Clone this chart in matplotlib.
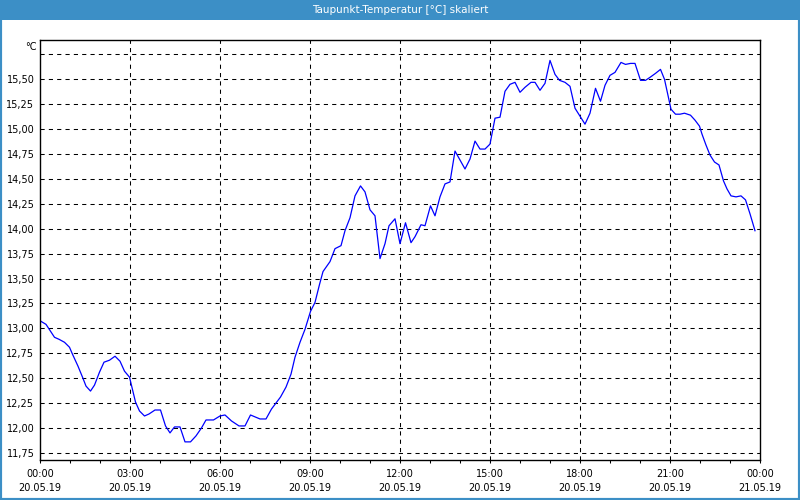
import numpy as np
import pandas as pd
import matplotlib
matplotlib.use("Agg")
import matplotlib.pyplot as plt
import matplotlib.dates as mdates
from matplotlib.patches import Rectangle
from matplotlib.ticker import FixedLocator, FuncFormatter

zeiten = ["00:02", "00:12", "00:29", "00:38", "00:49", "00:59", "01:05", "01:16", "01:25", "01:32",
          "01:41", "01:49", "01:59", "02:08", "02:19", "02:30", "02:40", "02:49", "02:59", "03:11",
          "03:19", "03:29", "03:38", "03:50", "04:01", "04:11", "04:20", "04:29", "04:40", "04:50",
          "05:01", "05:12", "05:23", "05:32", "05:47", "06:00", "06:10", "06:23", "06:38", "06:50",
          "07:01", "07:20", "07:32", "07:43", "08:01", "08:12", "08:22", "08:30", "08:40", "08:50",
          "09:01", "09:10", "09:19", "09:26", "09:40", "09:50", "10:02", "10:10", "10:20", "10:30",
          "10:41", "10:50", "11:00", "11:10", "11:20", "11:30", "11:38", "11:50", "12:00", "12:11",
          "12:22", "12:30", "12:42", "12:50", "13:01", "13:10", "13:20", "13:30", "13:40", "13:50",
          "14:10", "14:20", "14:30", "14:40", "14:50", "15:00", "15:10", "15:20", "15:30", "15:40",
          "15:50", "16:00", "16:10", "16:22", "16:30", "16:40", "16:50", "17:00", "17:10", "17:19",
          "17:30", "17:40", "17:50", "18:00", "18:10", "18:20", "18:31", "18:41", "18:50", "19:00",
          "19:10", "19:22", "19:31", "19:41", "19:50", "20:01", "20:11", "20:20", "20:31", "20:41",
          "20:49", "20:58", "21:02", "21:11", "21:20", "21:29", "21:41", "21:50", "21:59", "22:04",
          "22:12", "22:20", "22:29", "22:38", "22:47", "22:54", "23:02", "23:12", "23:22", "23:31",
          "23:40", "23:50"]
taupunkt = [13.07, 13.04, 12.91, 12.89, 12.86, 12.81, 12.74, 12.62, 12.51, 12.42,
            12.37, 12.43, 12.56, 12.66, 12.68, 12.72, 12.67, 12.57, 12.51, 12.26,
            12.17, 12.12, 12.14, 12.18, 12.18, 12.02, 11.95, 12.01, 12.01, 11.86,
            11.86, 11.92, 12.00, 12.08, 12.08, 12.12, 12.13, 12.07, 12.02, 12.02,
            12.13, 12.09, 12.09, 12.19, 12.31, 12.41, 12.54, 12.71, 12.86, 12.99,
            13.17, 13.26, 13.44, 13.57, 13.67, 13.80, 13.83, 13.98, 14.11, 14.33,
            14.43, 14.37, 14.19, 14.13, 13.70, 13.85, 14.03, 14.10, 13.85, 14.06,
            13.86, 13.92, 14.04, 14.03, 14.23, 14.13, 14.32, 14.45, 14.47, 14.78,
            14.60, 14.70, 14.88, 14.80, 14.80, 14.85, 15.11, 15.12, 15.38, 15.45,
            15.47, 15.37, 15.42, 15.47, 15.47, 15.39, 15.46, 15.69, 15.55, 15.49,
            15.47, 15.43, 15.21, 15.13, 15.05, 15.16, 15.41, 15.28, 15.44, 15.54,
            15.57, 15.67, 15.65, 15.66, 15.66, 15.49, 15.49, 15.52, 15.56, 15.60,
            15.50, 15.29, 15.20, 15.15, 15.15, 15.16, 15.14, 15.09, 15.03, 14.95,
            14.84, 14.74, 14.67, 14.64, 14.48, 14.40, 14.33, 14.32, 14.33, 14.29,
            14.15, 13.98]
y_ticks = [11.75, 12.00, 12.25, 12.50, 12.75, 13.00, 13.25, 13.50, 13.75, 14.00,
           14.25, 14.50, 14.75, 15.00, 15.25, 15.50]
y_grid = y_ticks + [15.75]

t = pd.to_datetime(["2019-05-20 " + z for z in zeiten])
t0 = pd.Timestamp("2019-05-20 00:00")
t1 = pd.Timestamp("2019-05-21 00:00")

blau = "#3c8fc6"
fig = plt.figure(figsize=(8, 5), dpi=100)
fig.patch.set_facecolor("white")

# Fensterrahmen + Titelleiste
fig.add_artist(Rectangle((0, 0), 1, 1, transform=fig.transFigure, fill=False,
                         edgecolor=blau, linewidth=3))
fig.add_artist(Rectangle((0, 1 - 20 / 500), 1, 20 / 500, transform=fig.transFigure,
                         facecolor=blau, edgecolor="none"))
fig.text(0.5, 1 - 10 / 500, "Taupunkt-Temperatur [°C] skaliert", color="white",
         ha="center", va="center", fontsize=7.5)

ax = fig.add_axes([0.05, 0.08, 0.90, 0.84])
ax.plot(t, taupunkt, color="#0000ff", linewidth=0.9)

ax.set_xlim(t0, t1)
ax.set_ylim(11.678, 15.895)

# Gitter
for yv in y_grid:
    ax.axhline(yv, color="black", linewidth=0.75, linestyle=(0, (4, 4)), zorder=0)
for h in range(3, 24, 3):
    ax.axvline(t0 + pd.Timedelta(hours=h), color="black", linewidth=0.75,
               linestyle=(0, (4, 4)), zorder=0)

# Uhrzeit auf der Hauptachse
ax.xaxis.set_major_locator(mdates.HourLocator(byhour=range(0, 24, 3)))
ax.xaxis.set_minor_locator(mdates.HourLocator())
ax.xaxis.set_major_formatter(mdates.DateFormatter("%H:%M"))
ax.tick_params(axis="x", which="both", direction="out", length=2.2, width=0.75,
               labelsize=7, pad=4.0)

# Datum als zweite Zeile
sec = ax.secondary_xaxis("bottom")
sec.xaxis.set_major_locator(mdates.HourLocator(byhour=range(0, 24, 3)))
sec.xaxis.set_major_formatter(mdates.DateFormatter("%d.%m.%y"))
sec.tick_params(axis="x", length=0, labelsize=7, pad=16.5)
sec.spines["bottom"].set_visible(False)

ax.yaxis.set_major_locator(FixedLocator(y_ticks))
ax.yaxis.set_major_formatter(FuncFormatter(lambda v, p: f"{v:.2f}".replace(".", ",")))
ax.tick_params(axis="y", length=0, labelsize=7, pad=4)

for s in ax.spines.values():
    s.set_linewidth(1.0)
    s.set_color("black")

ax.text(-0.004, 0.995, "°C", transform=ax.transAxes, ha="right", va="top", fontsize=7)

fig.savefig("out.png", dpi=100)
